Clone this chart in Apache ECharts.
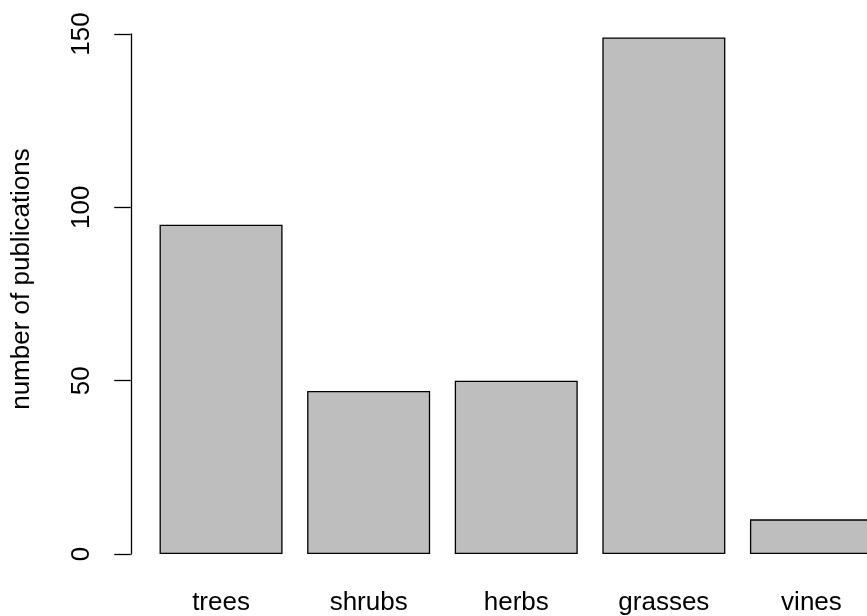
<!DOCTYPE html>
<html>
<head>
<meta charset="utf-8">
<script src="https://cdn.jsdelivr.net/npm/echarts@6/dist/echarts.min.js"></script>
<style>
html,body{margin:0;padding:0;background:#fff;}
#chart{width:867px;height:616px;}
</style>
</head>
<body>
<div id="chart"></div>
<script>
const categories = ["trees", "shrubs", "herbs", "grasses", "vines"];
const publications = [95, 47, 50, 149, 10];
const yTicks = [0, 50, 100, 150];
const yTitle = "number of publications";

const FONT = "'Liberation Sans', Arial, Helvetica, sans-serif";
const chart = echarts.init(document.getElementById('chart'), null, {renderer: 'canvas'});
chart.setOption({
  animation: false,
  backgroundColor: '#ffffff',
  grid: {left: 147.25, width: 738, top: 34, bottom: 62, containLabel: false, outerBoundsMode: 'none'},
  xAxis: {
    type: 'category',
    data: categories,
    boundaryGap: true,
    axisLine: {show: false},
    axisTick: {show: false},
    axisLabel: {color: '#000', fontFamily: FONT, fontSize: 26, margin: 36, interval: 0}
  },
  yAxis: {
    type: 'value',
    min: yTicks[0],
    max: yTicks[yTicks.length - 1],
    interval: 50,
    offset: 16.5,
    splitLine: {show: false},
    axisLine: {show: true, lineStyle: {color: '#000', width: 1.3}},
    axisTick: {show: true, length: 16.5, inside: false, lineStyle: {color: '#000', width: 1.3}},
    axisLabel: {color: '#000', fontFamily: FONT, fontSize: 26, rotate: 90, margin: 36},
    name: yTitle,
    nameLocation: 'middle',
    nameRotate: 90,
    nameGap: 96,
    nameTextStyle: {color: '#000', fontFamily: FONT, fontSize: 26, padding: [0, 0, 0, 30]}
  },
  series: [{
    type: 'bar',
    data: publications,
    barWidth: 123,
    itemStyle: {color: '#BEBEBE', borderColor: '#000', borderWidth: 1.3}
  }]
});
</script>
</body>
</html>
